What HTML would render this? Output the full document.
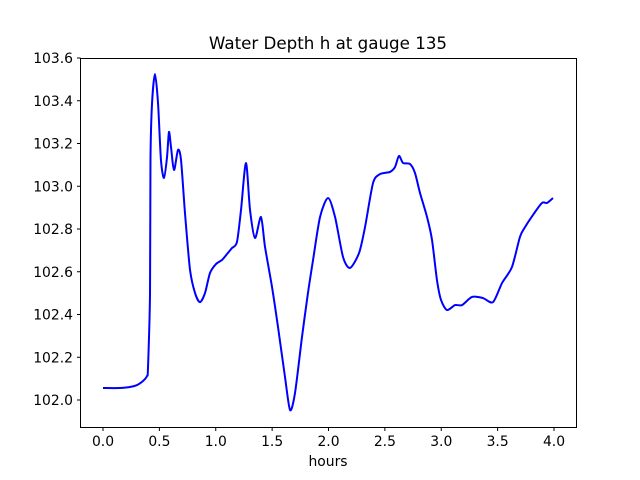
<!DOCTYPE html>
<html><head><meta charset="utf-8"><style>
body{margin:0;background:#fff}
svg{display:block;font-family:"DejaVu Sans","Liberation Sans",sans-serif}
</style></head><body>
<svg id="chart" width="640" height="480" viewBox="0 0 640 480" xmlns="http://www.w3.org/2000/svg">
<rect width="640" height="480" fill="#fff"/>
<text x="328" y="49" font-size="16.7" text-anchor="middle">Water Depth h at gauge 135</text>
<text x="328" y="466" font-size="13.9" text-anchor="middle">hours</text>
<g id="ticks"></g>
<g id="series"></g>
<rect x="80.5" y="58.5" width="496" height="369" fill="none" stroke="#000" stroke-width="1"/>
</svg>
<script>
const hours=[0.00,0.151,0.239,0.302,0.355,0.390,0.399,0.417,0.421,0.435,0.461,0.488,0.514,0.541,0.568,0.585,0.603,0.630,0.665,0.692,0.727,0.772,0.816,0.860,0.905,0.949,1.002,1.055,1.100,1.144,1.188,1.224,1.268,1.304,1.348,1.401,1.437,1.499,1.552,1.614,1.659,1.703,1.765,1.818,1.863,1.925,1.996,2.058,2.129,2.191,2.271,2.324,2.395,2.457,2.545,2.590,2.625,2.661,2.723,2.767,2.812,2.874,2.918,2.962,2.998,3.051,3.122,3.184,3.273,3.370,3.459,3.539,3.627,3.698,3.743,3.814,3.894,3.938,3.991];
const depth=[102.056,102.056,102.061,102.070,102.089,102.112,102.150,102.501,103.123,103.389,103.525,103.389,103.123,103.039,103.137,103.254,103.184,103.076,103.170,103.123,102.875,102.608,102.501,102.458,102.501,102.594,102.636,102.655,102.683,102.711,102.739,102.889,103.109,102.889,102.758,102.856,102.716,102.529,102.342,102.108,101.953,102.033,102.295,102.501,102.655,102.856,102.945,102.856,102.669,102.618,102.688,102.809,103.015,103.057,103.067,103.090,103.142,103.109,103.104,103.062,102.968,102.856,102.749,102.561,102.468,102.421,102.444,102.444,102.482,102.477,102.458,102.547,102.622,102.763,102.809,102.866,102.922,102.922,102.945];
const xTicks=["0.0","0.5","1.0","1.5","2.0","2.5","3.0","3.5","4.0"];
const yTicks=["102.0","102.2","102.4","102.6","102.8","103.0","103.2","103.4","103.6"];
const xs=h=>103+112.75*h;
const ys=v=>400-213.75*(v-102);
const NS="http://www.w3.org/2000/svg";
const tg=document.getElementById('ticks');
xTicks.forEach(t=>{
  const x=xs(parseFloat(t));
  const l=document.createElementNS(NS,'line');
  
  
  l.setAttribute('x1',x);l.setAttribute('x2',x);l.setAttribute('y1',427.5);l.setAttribute('y2',431);l.setAttribute('stroke','#000');
  tg.appendChild(l);
  const tx=document.createElementNS(NS,'text');
  
  
  tx.setAttribute('x',x);tx.setAttribute('y',446);tx.setAttribute('font-size','13.9');tx.setAttribute('text-anchor','middle');
  tx.textContent=t;tg.appendChild(tx);
});
yTicks.forEach(t=>{
  const y=ys(parseFloat(t));
  const l=document.createElementNS(NS,'line');
  
  
  l.setAttribute('x1',77);l.setAttribute('x2',80.5);l.setAttribute('y1',y);l.setAttribute('y2',y);l.setAttribute('stroke','#000');
  tg.appendChild(l);
  const tx=document.createElementNS(NS,'text');
  
  
  tx.setAttribute('x',73);tx.setAttribute('y',y+5);tx.setAttribute('font-size','13.9');tx.setAttribute('text-anchor','end');
  tx.textContent=t;tg.appendChild(tx);
});
const P=hours.map((h,i)=>[xs(h),ys(depth[i])]);
let d='M'+P[0][0].toFixed(2)+','+P[0][1].toFixed(2);
for(let i=0;i<P.length-1;i++){
  const p0=P[i-1]||P[i],p1=P[i],p2=P[i+1],p3=P[i+2]||P[i+1];
  const k=1/6*0.8;
  const c1=[p1[0]+(p2[0]-p0[0])*k,p1[1]+(p2[1]-p0[1])*k];
  const c2=[p2[0]-(p3[0]-p1[0])*k,p2[1]-(p3[1]-p1[1])*k];
  d+=' C'+c1.map(v=>v.toFixed(2)).join(',')+' '+c2.map(v=>v.toFixed(2)).join(',')+' '+p2[0].toFixed(2)+','+p2[1].toFixed(2);
}
const pl=document.createElementNS(NS,'path');


pl.setAttribute('d',d);
pl.setAttribute('fill','none');pl.setAttribute('stroke','#0000ff');pl.setAttribute('stroke-width','2');pl.setAttribute('stroke-linejoin','round');
document.getElementById('series').appendChild(pl);
</script>
</body></html>
